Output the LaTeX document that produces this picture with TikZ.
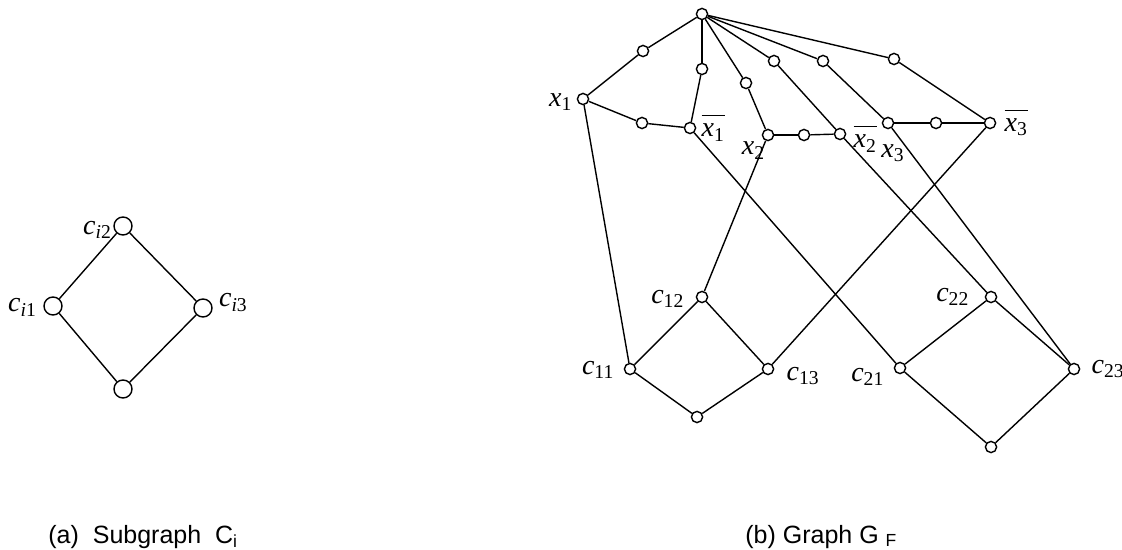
\documentclass[tikz,border=0pt]{standalone}
\usepackage{fontspec}
\setmainfont{Liberation Sans}
\newfontfamily\lblfont{Liberation Serif}
\usetikzlibrary{positioning}

\newcommand{\negx}[1]{\setbox0\hbox{\itshape x\textsubscript{\upshape #1}}%
  \vbox{\hrule width\wd0 height 0.5pt \vskip 4pt \box0}}
\newcommand{\posx}[1]{{\itshape x}\textsubscript{#1}}
\newcommand{\clause}[1]{{\itshape c}\textsubscript{#1}}

\tikzset{
  vtx/.style={circle, draw, fill=white, inner sep=0pt, minimum size=5.6pt, line width=0.7pt},
  bigvtx/.style={vtx, minimum size=9pt},
  lbl/.style={inner sep=0.5pt, font=\lblfont\fontsize{14}{14}\selectfont},
  captext/.style={inner sep=0pt, anchor=base west, font=\fontsize{12.5}{12.5}\selectfont},
  edge/.style={line width=0.7pt}
}

\begin{document}
\begin{tikzpicture}[x=0.5pt, y=-0.5pt]
    \useasboundingbox (0,0) rectangle (1122,550);

    % subgraph C_i
    \node[bigvtx] (ci1) at (53,306) {};
    \node[bigvtx] (ci2) at (123,226) {};
    \node[bigvtx] (ci3) at (203,308) {};
    \node[bigvtx] (ci4) at (123,389) {};
    \node[lbl, left=2.5pt of ci1, yshift=-0.75pt] (ci1l) {\itshape c\textsubscript{i\upshape 1}};
    \node[lbl, left=0pt of ci2, yshift=-2pt] (ci2l) {\itshape c\textsubscript{i\upshape 2}};
    \node[lbl, right=2.5pt of ci3, yshift=2.75pt] (ci3l) {\itshape c\textsubscript{i\upshape 3}};
    \foreach \a/\b in {ci1/ci2, ci2/ci3, ci1/ci4, ci3/ci4}
        \draw[edge] (\a) -- (\b);

    % graph G_F: top vertex and literals
    \node[vtx] (top) at (702,14) {};
    \node[vtx] (s1) at (643,51) {};
    \node[vtx] (s2) at (702,69) {};
    \node[vtx] (s3) at (746,83) {};
    \node[vtx] (s4) at (774,61) {};
    \node[vtx] (s5) at (823,61) {};
    \node[vtx] (s6) at (894,59) {};
    \node[vtx] (x1) at (583,99) {};
    \node[vtx] (m1) at (642,123) {};
    \node[vtx] (x1b) at (690,128) {};
    \node[vtx] (x2) at (768,135) {};
    \node[vtx] (m2) at (804,135) {};
    \node[vtx] (x2b) at (840,134) {};
    \node[vtx] (x3) at (888,123) {};
    \node[vtx] (m3) at (936,123) {};
    \node[vtx] (x3b) at (990,123) {};

    % clause gadgets
    \node[vtx] (c11) at (630,369) {};
    \node[vtx] (c12) at (702,297) {};
    \node[vtx] (c13) at (768,369) {};
    \node[vtx] (b1) at (697,417) {};
    \node[vtx] (c21) at (900,368) {};
    \node[vtx] (c22) at (991,297) {};
    \node[vtx] (c23) at (1074,369) {};
    \node[vtx] (b2) at (991,447) {};

    % labels
    \node[lbl, left=1.5pt of x1, yshift=-1.5pt] (x1l) {\posx{1}};
    \node[lbl, right=2pt of x1b] (x1bl) {\negx{1}};
    \node[lbl, below left=0.5pt and -1.5pt of x2] (x2l) {\posx{2}};
    \node[lbl, right=3pt of x2b, yshift=-2.5pt] (x2bl) {\negx{2}};
    \node[lbl, below=7pt of x3, xshift=2.5pt] (x3l) {\posx{3}};
    \node[lbl, right=3.5pt of x3b] (x3bl) {\negx{3}};
    \node[lbl, left=4pt of c11, yshift=-0.5pt] (c11l) {\clause{11}};
    \node[lbl, left=5pt of c12, yshift=-1pt] (c12l) {\clause{12}};
    \node[lbl, right=5.5pt of c13, yshift=-3.5pt] (c13l) {\clause{13}};
    \node[lbl, left=4pt of c21, yshift=-4.5pt] (c21l) {\clause{21}};
    \node[lbl, left=7pt of c22] (c22l) {\clause{22}};
    \node[lbl, right=5pt of c23] (c23l) {\clause{23}};

    % edges
    \foreach \a/\b in {top/s1, s1/x1, top/s2, s2/x1b, top/s3, s3/x2,
                       top/s4, s4/x2b, top/s5, s5/x3, top/s6, s6/x3b,
                       x1/m1, m1/x1b, x2/m2, m2/x2b, x3/m3, m3/x3b,
                       x1/c11, x2/c12, x3b/c13, x1b/c21, x2b/c22, x3/c23,
                       c11/c12, c12/c13, c11/b1, c13/b1,
                       c21/c22, c22/c23, c21/b2, c23/b2}
        \draw[edge] (\a) -- (\b);

    % captions
    \node[captext] (capa) at (48,543) {(a)\ \ Subgraph\ \ C\textsubscript{i}};
    \node[captext] (capb) at (745,543) {(b) Graph G \textsubscript{F}};
\end{tikzpicture}
\end{document}
